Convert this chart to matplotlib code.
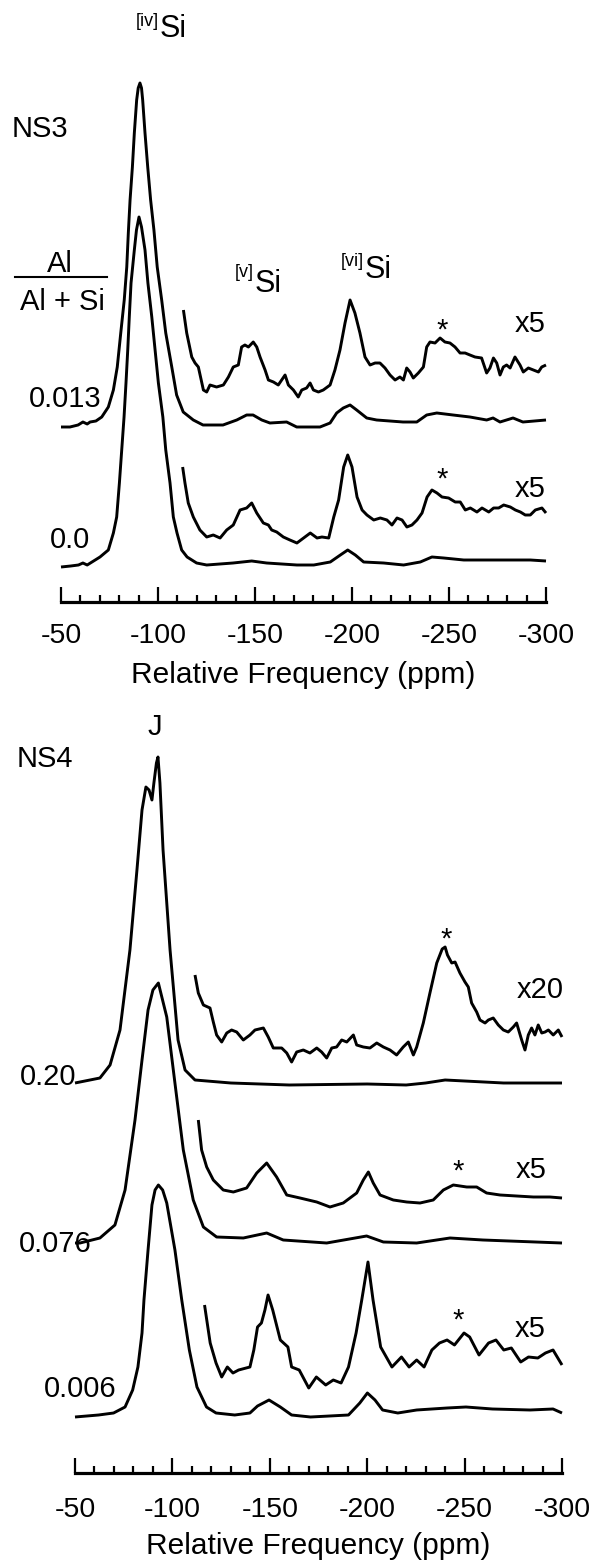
import matplotlib
matplotlib.use('Agg')
import matplotlib.pyplot as plt
import numpy as np
from matplotlib.ticker import MultipleLocator

plt.rcParams['font.family'] = ['Liberation Sans', 'DejaVu Sans']
plt.rcParams['axes.unicode_minus'] = False

# ---------------- NS3 panel data (ppm, intensity) ----------------
ns3_013_ppm = [-50, -54.6, -58.8, -61.3, -63.5, -65.0, -68.0, -71.0, -74.4, -77.0, -79.0, -80.8, -82.6, -83.9,
               -84.7, -85.6, -86.8, -87.8, -89.0, -89.8, -90.7, -91.5, -92.1, -93.3, -94.7, -96.2, -97.9,
               -99.6, -101.9, -104.0, -107.1, -109.6, -113.0, -118.2, -123.2, -133.5, -140.6, -145.7, -149.0,
               -153.5, -157.7, -166.3, -171.5, -183.5, -188.7, -192.1, -195.5, -199.0, -202.4, -207.6, -212.7,
               -226.3, -233.4, -238.5, -243.7, -252.1, -260.8, -269.4, -272.7, -276.3, -283.0, -288.1, -300]
ns3_013_int = [-2, -2, 0, 3, 1, 3, 4, 8, 18, 35, 58, 92, 125, 158,
               192, 225, 258, 292, 325, 337, 342, 337, 325, 292, 258, 225, 195,
               158, 125, 92, 58, 30, 13, 5, 0, 0, 5, 10, 10,
               5, 2, 3, -2, -2, 2, 12, 17, 20, 15, 7, 5,
               3, 3, 10, 12, 10, 8, 5, 7, 3, 7, 3, 5]

ns3_013x5_ppm = [-113.1, -114.8, -117.4, -119.1, -120.8, -123.4, -125.1, -126.8, -130.2, -133.7, -136.3, -138.8,
                 -141.4, -143.1, -144.8, -146.6, -149.1, -150.9, -152.6, -155.2, -156.9, -159.5, -162.0, -165.5,
                 -167.2, -169.8, -172.3, -174.1, -176.6, -178.4, -180.1, -182.7, -185.2, -188.7, -191.2, -193.8,
                 -196.4, -199.0, -201.5, -204.1, -206.7, -209.3, -211.9, -214.4, -217.0, -219.6, -222.2, -224.7,
                 -226.5, -228.2, -229.9, -231.6, -234.2, -236.8, -238.5, -240.2, -242.8, -245.4, -247.9, -250.5,
                 -253.1, -255.7, -258.3, -260.8, -263.4, -266.8, -269.4, -271.1, -272.9, -274.6, -276.3, -278.0,
                 -279.7, -281.5, -284.0, -286.6, -288.3, -290.9, -293.5, -296.1, -297.8, -300]
ns3_013x5_int = [80, 57, 33, 27, 23, 0, -2, 5, 3, 5, 13, 23,
                 25, 43, 45, 43, 48, 43, 33, 20, 10, 8, 5, 15,
                 5, 0, -7, 0, 2, 7, 0, -2, 0, 5, 20, 40,
                 67, 90, 77, 57, 33, 25, 27, 27, 22, 15, 10, 13,
                 10, 22, 18, 12, 17, 23, 43, 48, 47, 52, 48, 47,
                 43, 37, 37, 35, 33, 32, 17, 22, 32, 27, 15, 23,
                 25, 22, 33, 25, 18, 22, 20, 18, 23, 25]

ns3_00_ppm = [-50, -55, -59, -61.3, -63.5, -70.1, -74.4, -77.0, -78.7, -80.1, -81.3, -82.5, -83.5, -84.4,
              -85.2, -86.1, -87.8, -88.9, -90.2, -91.5, -93.3, -94.8, -96.8, -98.5, -100.2, -102.5, -104.0,
              -106.2, -107.9, -109.8, -112.2, -115.0, -119.9, -125.1, -138.7, -148.3, -156.0, -171.6, -180.3,
              -188.8, -194.0, -197.8, -201.7, -206.0, -216.3, -226.6, -235.2, -241.2, -247.3, -257.6, -274.7,
              -291.9, -300]
ns3_00_int = [-1, 0, 1, 3, 1, 9, 16, 33, 49, 83, 116, 149, 183, 216,
              249, 283, 316, 336, 349, 339, 316, 283, 249, 216, 183, 149, 116,
              83, 49, 33, 16, 9, 3, 1, 3, 5, 3, 1, 1,
              4, 11, 16, 11, 4, 3, 1, 4, 9, 8, 6, 6,
              6, 5]

ns3_00x5_ppm = [-112.7, -113.9, -115.6, -118.2, -121.6, -125.1, -128.5, -132.0, -135.4, -138.8, -142.3, -145.7,
                -148.3, -150.9, -154.3, -156.9, -158.6, -161.2, -164.6, -168.0, -171.6, -178.5, -182.0, -184.5,
                -188.0, -190.6, -193.1, -195.7, -197.8, -200.0, -202.6, -205.2, -207.7, -211.2, -214.6, -218.0,
                -220.6, -223.2, -225.8, -228.3, -230.9, -233.5, -236.1, -238.7, -241.2, -243.8, -246.4, -249.8,
                -253.2, -255.8, -258.4, -261.0, -264.4, -267.0, -270.5, -273.0, -275.6, -278.2, -281.6, -284.2,
                -286.8, -289.3, -291.9, -294.5, -297.9, -300]
ns3_00x5_int = [73, 57, 37, 23, 10, 3, 5, 2, 10, 15, 30, 32,
                37, 27, 17, 15, 10, 8, 3, 0, -3, 7, 2, 3,
                2, 23, 40, 73, 85, 73, 43, 30, 25, 20, 22, 20,
                15, 22, 20, 13, 15, 20, 27, 43, 50, 47, 43, 42,
                38, 38, 30, 32, 28, 32, 28, 32, 32, 35, 33, 30,
                28, 25, 25, 30, 32, 27]

# ---------------- NS4 panel data (ppm, intensity) ----------------
ns4_020_ppm = [-50, -62.8, -68.0, -73.1, -78.2, -81.8, -84.4, -86.4, -88.0, -89.5, -90.5, -91.8, -92.6, -93.6,
               -95.2, -98.8, -102.9, -106.5, -111.6, -130, -160, -200, -220, -230, -240, -250, -270, -300]
ns4_020_int = [0, 5, 18, 53, 133, 213, 273, 296, 293, 283, 300, 320, 326, 300,
               233, 133, 43, 13, 3, 0, -2, -1, -2, 0, 3, 2, 0, 0]

ns4_020x20_ppm = [-111.6, -113.3, -115.9, -119.3, -121.0, -122.7, -125.3, -127.9, -130.4, -133.0, -136.4, -139.8,
                  -142.4, -146.7, -149.2, -151.8, -156.1, -158.7, -161.2, -163.8, -167.2, -170.6, -174.1, -176.6,
                  -179.2, -181.8, -184.3, -186.9, -189.5, -192.9, -194.6, -198.0, -201.4, -204.9, -208.3, -211.7,
                  -215.1, -218.5, -221.1, -223.7, -225.4, -228.8, -232.2, -235.7, -238.5, -240.0, -241.2, -243.4,
                  -245.1, -247.6, -250.2, -251.9, -253.6, -256.2, -257.9, -260.5, -262.2, -264.7, -267.3, -269.9,
                  -272.4, -275.0, -276.7, -279.3, -281.0, -282.7, -284.4, -286.1, -287.8, -289.6, -291.3, -293.0,
                  -295.5, -298.1, -300]
ns4_020x20_int = [73, 55, 43, 40, 26, 13, 6, 15, 18, 16, 8, 13,
                  18, 20, 11, 0, 0, -5, -14, -4, -2, -5, 0, -4,
                  -10, 0, 1, 8, 6, 13, 3, 1, 0, 5, 1, -2,
                  -7, 1, 6, -7, 1, 25, 55, 85, 99, 101, 93, 85,
                  86, 75, 66, 61, 45, 36, 28, 25, 28, 30, 23, 18,
                  16, 21, 25, 8, -2, 13, 20, 13, 23, 15, 16, 18,
                  13, 18, 11]

ns4_076_ppm = [-50, -52.6, -62.8, -70.5, -75.7, -80.8, -84.4, -87.5, -90.0, -92.8, -97.1, -101.3, -105.6,
               -110.7, -115.9, -122.7, -136.4, -148.4, -156.9, -179.2, -199.7, -208.3, -225.4, -242.5, -259.4, -300]
ns4_076_int = [0, 0, 5, 18, 53, 123, 183, 233, 253, 260, 226, 160, 93,
               43, 16, 6, 5, 10, 3, 0, 7, 1, 0, 5, 3, 0]

ns4_076x5_ppm = [-113.3, -115.0, -117.6, -121.0, -126.1, -131.3, -138.1, -143.3, -148.4, -153.5, -158.7, -165.5,
                 -174.1, -180.9, -187.7, -194.6, -198.0, -200.6, -203.1, -206.6, -213.4, -220.3, -227.1, -233.9,
                 -239.1, -244.2, -251.1, -256.2, -261.3, -268.2, -276.7, -285.3, -293.8, -300]
ns4_076x5_int = [78, 48, 31, 18, 8, 6, 10, 25, 35, 21, 3, 0,
                 -4, -9, -5, 5, 18, 26, 15, 3, -2, -4, -5, -2,
                 8, 13, 11, 11, 5, 3, 2, 1, 1, 0]

ns4_006_ppm = [-50, -62.1, -69.8, -75.7, -79.6, -82.3, -84.4, -85.4, -87.5, -89.5, -91.1, -92.8, -95.0, -97.1,
               -101.3, -104.8, -108.7, -112.6, -117.5, -122.4, -132.0, -139.8, -143.7, -149.6, -155.4, -161.2,
               -170.9, -190.4, -196.2, -200.1, -204.0, -207.9, -215.7, -225.4, -241.0, -250.7, -264.3, -283.6,
               -295.4, -300]
ns4_006_int = [-1, 1, 3, 9, 26, 49, 83, 116, 166, 211, 226, 231, 226, 213,
               166, 116, 66, 29, 9, 3, 1, 3, 10, 16, 9, 1,
               -1, 1, 13, 23, 16, 6, 3, 6, 8, 9, 7, 6,
               7, 3]

ns4_006x5_ppm = [-116.5, -119.4, -122.4, -125.3, -128.2, -131.1, -134.0, -139.8, -141.8, -143.7, -145.7, -147.5,
                 -149.1, -151.5, -155.4, -159.3, -161.2, -165.1, -170.0, -173.9, -178.7, -182.6, -186.6, -190.4,
                 -194.3, -197.2, -200.4, -203.0, -206.9, -212.7, -217.6, -221.5, -225.4, -229.2, -233.2, -237.1,
                 -241.0, -244.8, -249.7, -252.6, -257.4, -262.3, -266.1, -270.1, -274.0, -278.8, -282.8, -287.6,
                 -291.5, -295.4, -300]
ns4_006x5_int = [62, 24, 4, -10, 0, -6, -3, 0, 17, 40, 44, 57,
                 72, 57, 27, 20, 0, -3, -21, -10, -18, -13, -16, 0,
                 34, 67, 105, 67, 20, 0, 10, 0, 7, 0, 17, 24,
                 27, 22, 34, 30, 12, 24, 27, 17, 19, 5, 10, 9,
                 14, 17, 2]

# vertical stacking offsets of each trace
ns3_offsets = {'013': 177, '013x5': 212, '00': 36, '00x5': 62}
ns4_offsets = {'020': 390, '020x20': 425, '076': 230, '076x5': 275, '006': 57, '006x5': 106}

tick_values = [-50, -100, -150, -200, -250, -300]

W, H = 594, 1563
fig = plt.figure(figsize=(W / 100, H / 100), dpi=100)
ax1 = fig.add_axes([61 / W, 1 - 602 / H, 485 / W, 602 / H])
ax2 = fig.add_axes([75 / W, 1 - 1473 / H, 487 / W, 773 / H])

LW = 2.1
FS = 21


def style(ax, ymax, pad, labelpad):
    ax.set_xlim(-50, -300)
    ax.set_ylim(0, ymax)
    for s in ['left', 'right', 'top']:
        ax.spines[s].set_visible(False)
    ax.spines['bottom'].set_linewidth(2.3)
    ax.set_yticks([])
    ax.set_xticks(tick_values)
    ax.set_xticklabels([str(v) for v in tick_values])
    ax.xaxis.set_minor_locator(MultipleLocator(10))
    ax.tick_params(axis='x', which='major', direction='in', length=11, width=1.6,
                   labelsize=20.5, pad=pad)
    ax.tick_params(axis='x', which='minor', direction='in', length=5, width=1.6)
    ax.set_xlabel('Relative Frequency (ppm)', fontsize=21.5, labelpad=labelpad)
    ax.patch.set_alpha(0)


def trace(ax, x, y, off):
    ax.plot(x, np.asarray(y, float) + off, color='black', lw=LW,
            solid_joinstyle='round', solid_capstyle='butt', clip_on=False)


style(ax1, 602, 15, 9)
style(ax2, 773, 17, 6.5)

trace(ax1, ns3_013_ppm, ns3_013_int, ns3_offsets['013'])
trace(ax1, ns3_013x5_ppm, ns3_013x5_int, ns3_offsets['013x5'])
trace(ax1, ns3_00_ppm, ns3_00_int, ns3_offsets['00'])
trace(ax1, ns3_00x5_ppm, ns3_00x5_int, ns3_offsets['00x5'])

trace(ax2, ns4_020_ppm, ns4_020_int, ns4_offsets['020'])
trace(ax2, ns4_020x20_ppm, ns4_020x20_int, ns4_offsets['020x20'])
trace(ax2, ns4_076_ppm, ns4_076_int, ns4_offsets['076'])
trace(ax2, ns4_076x5_ppm, ns4_076x5_int, ns4_offsets['076x5'])
trace(ax2, ns4_006_ppm, ns4_006_int, ns4_offsets['006'])
trace(ax2, ns4_006x5_ppm, ns4_006x5_int, ns4_offsets['006x5'])


def txt(ax, x, y, s, fs=FS, ha='center'):
    ax.text(x, y, s, fontsize=fs, ha=ha, va='baseline', clip_on=False)


def site(ax, x, y, sup, ysup):
    ax.text(x + 0.6, ysup, sup, fontsize=13, ha='right', va='baseline', clip_on=False)
    ax.text(x, y, 'Si', fontsize=22, ha='left', va='baseline', clip_on=False)


# NS3 annotations
site(ax1, -101.0, 565, '[iv]', 576)
site(ax1, -150.0, 310, '[v]', 325)
site(ax1, -206.7, 324, '[vi]', 336)
txt(ax1, -24.7, 465, 'NS3', ha='left')
txt(ax1, -49.5, 330, 'Al')
ax1.plot([-26.3, -73.7], [325, 325], color='black', lw=1.5, clip_on=False)
txt(ax1, -50.5, 292, 'Al + Si')
txt(ax1, -52.1, 195, '0.013')
txt(ax1, -54.6, 54, '0.0')
txt(ax1, -246.4, 263, '*')
txt(ax1, -291.8, 270, 'x5')
txt(ax1, -246.4, 114, '*')
txt(ax1, -291.8, 105, 'x5')

# NS4 annotations
txt(ax2, -91.1, 738, 'J')
txt(ax2, -20.2, 706, 'NS4', ha='left')
txt(ax2, -240.5, 525, '*')
txt(ax2, -288.7, 475, 'x20')
txt(ax2, -36.1, 388, '0.20')
txt(ax2, -246.6, 293, '*')
txt(ax2, -284.1, 295, 'x5')
txt(ax2, -39.7, 221, '0.076')
txt(ax2, -246.6, 144, '*')
txt(ax2, -283.6, 136, 'x5')
txt(ax2, -52.6, 76, '0.006')

fig.savefig('out.png', dpi=100, facecolor='white')
